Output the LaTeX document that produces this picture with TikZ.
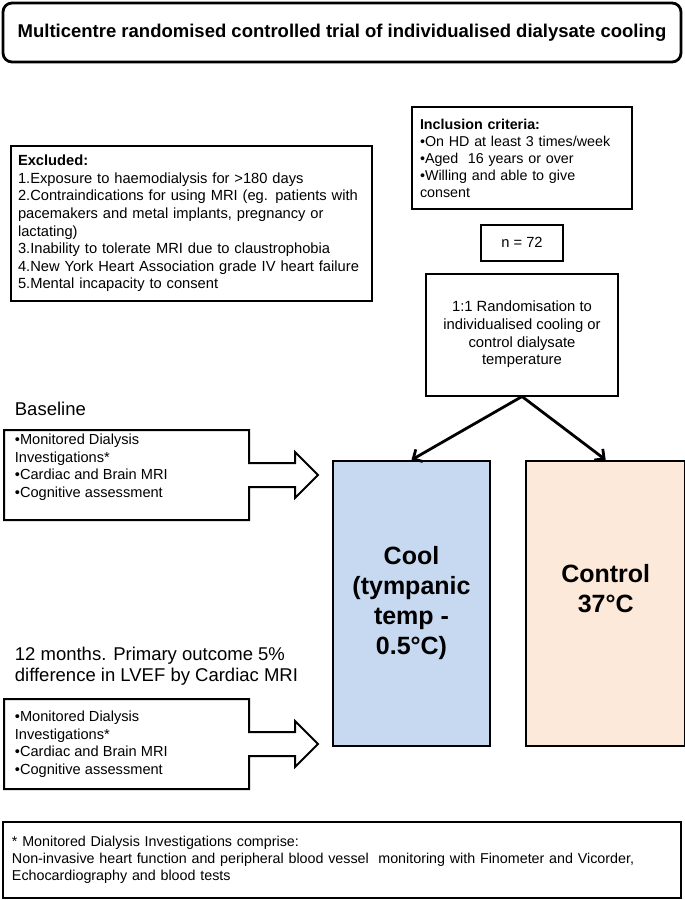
\documentclass[tikz,border=0pt]{standalone}
\usepackage{fontspec}
\setmainfont{Liberation Sans}
\usepackage{tikz}
\usetikzlibrary{arrows.meta,positioning}

\definecolor{coolblue}{RGB}{198,217,240}
\definecolor{ctrlpeach}{RGB}{253,233,217}

\newcommand{\stageoutline}[1]{%
  \draw[stagebox] (#1) -- ++(245,0) -- ++(0,33) -- ++(46,0) -- ++(0,-11)
    -- ++(23,23) -- ++(-23,23) -- ++(0,-11) -- ++(-46,0) -- ++(0,33)
    -- ++(-245,0) -- cycle;}

\begin{document}
\begin{tikzpicture}[x=1pt,y=-1pt,>={Straight Barb[length=7pt,width=14pt]},node distance=14pt,line width=1.8pt]
            \tikzset{listbox/.style={draw, align=left, inner xsep=9pt, font=\fontsize{14.7}{17.6}\selectfont},
                     stagebox/.style={draw, line width=2pt, line join=miter},
                     stagelabel/.style={inner sep=0pt, anchor=west, align=left, font=\fontsize{18.5}{21}\selectfont},
                     armbox/.style={draw, line width=2.2pt, align=center, minimum height=285pt, font=\bfseries\fontsize{25}{30}\selectfont},
                     split/.style={->, line width=2.8pt}}
            \useasboundingbox (0,0) rectangle (685,900);
            \node[draw, line width=2.8pt, rounded corners=9pt, minimum width=678pt, minimum height=59pt, font=\bfseries\fontsize{18.5}{21}\selectfont] (title) at (342,32.5) {Multicentre randomised controlled trial of individualised dialysate cooling};
            \node[listbox, text width=347pt, inner xsep=7pt, minimum height=155pt] (excl) at (191.5,223.5) {\textbf{Excluded:}\\1.Exposure to haemodialysis for >180 days\\2.Contraindications for using MRI (eg. patients with\\pacemakers and metal implants, pregnancy or\\lactating)\\3.Inability to tolerate MRI due to claustrophobia\\4.New York Heart Association grade IV heart failure\\5.Mental incapacity to consent};
            \node[listbox, text width=204pt, inner xsep=8pt, minimum height=102pt, font=\fontsize{14.3}{17}\selectfont] (incl) at (522,158) {\textbf{Inclusion criteria:}\\•On HD at least 3 times/week\\•Aged~ 16 years or over\\•Willing and able to give\\consent};
            \node[listbox, align=center, minimum width=82pt, minimum height=36pt] (n) [below=14pt of incl] {n = 72};
            \node[listbox, align=center, minimum width=192pt, minimum height=122pt, font=\fontsize{14.8}{17.7}\selectfont] (rand) [below=11pt of n] {1:1 Randomisation to\\individualised cooling or\\control dialysate\\temperature};
            \node[armbox, fill=coolblue, minimum width=157pt] (cool) at (411.5,603.5) {Cool\\(tympanic\\temp -\\0.5°C)};
            \node[armbox, fill=ctrlpeach, minimum width=159pt] (ctrl) [right=34pt of cool] {Control\\37°C\\\mbox{}};
            \path (rand.south) edge[split] (cool.north);
            \path (rand.south) edge[split] (ctrl.north);
            \node[stagelabel] (baselbl) at (14,409) {Baseline};
            \coordinate (b1) at (4,430);
            \stageoutline{b1}
            \node[listbox, draw=none, inner sep=0pt, anchor=west, font=\fontsize{14.6}{17.5}\selectfont] (base) at (14,467) {•Monitored Dialysis\\Investigations*\\•Cardiac and Brain MRI\\•Cognitive assessment};
            \node[stagelabel] (follbl) at (14,666.5) {12 months. Primary outcome 5\%\\difference in LVEF by Cardiac MRI};
            \coordinate (b2) at (4,699);
            \stageoutline{b2}
            \node[listbox, draw=none, inner sep=0pt, anchor=west, font=\fontsize{14.6}{17.5}\selectfont] (follow) at (14,744) {•Monitored Dialysis\\Investigations*\\•Cardiac and Brain MRI\\•Cognitive assessment};
            \node[listbox, text width=660pt, minimum height=76pt, font=\fontsize{14.3}{17}\selectfont] (note) at (342,860) {* Monitored Dialysis Investigations comprise:\\Non-invasive heart function and peripheral blood vessel~ monitoring with Finometer and Vicorder,\\Echocardiography and blood tests};
        \end{tikzpicture}
\end{document}
